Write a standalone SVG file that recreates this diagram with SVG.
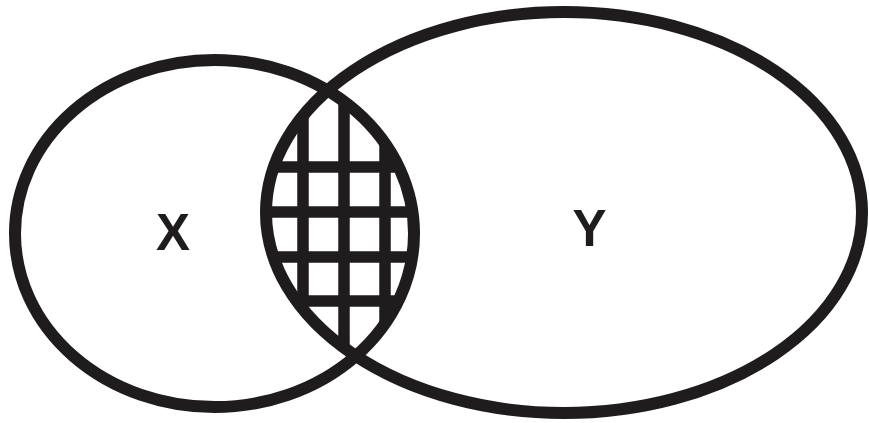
<svg xmlns="http://www.w3.org/2000/svg" width="869" height="423" viewBox="0 0 869 423">
  <style>
    .ring { fill: none; stroke: #1f1c1d; stroke-width: 12; }
    .grid line { stroke: #1f1c1d; stroke-width: 11.5; }
    .label { font-family: "Liberation Sans", Arial, sans-serif; font-weight: bold; font-size: 51px; fill: #1f1c1d; text-anchor: middle; }
  </style>
  <defs>
    <clipPath id="clipX">
      <ellipse cx="214.5" cy="233.5" rx="199.5" ry="173.5"/>
    </clipPath>
    <clipPath id="clipY">
      <ellipse cx="564" cy="212.5" rx="298" ry="200.5"/>
    </clipPath>
  </defs>
  <rect width="869" height="423" fill="#ffffff"/>
  <g id="intersection" clip-path="url(#clipX)">
    <g clip-path="url(#clipY)">
      <g class="grid">
        <line x1="303" y1="60" x2="303" y2="400"/>
        <line x1="344" y1="60" x2="344" y2="400"/>
        <line x1="385" y1="60" x2="385" y2="400"/>
        <line x1="240" y1="167" x2="440" y2="167"/>
        <line x1="240" y1="212" x2="440" y2="212"/>
        <line x1="240" y1="257" x2="440" y2="257"/>
        <line x1="240" y1="301" x2="440" y2="301"/>
      </g>
    </g>
  </g>
  <g id="setX">
    <ellipse class="ring" cx="214.5" cy="233.5" rx="199.5" ry="173.5"/>
    <text class="label" x="173" y="250">X</text>
  </g>
  <g id="setY">
    <ellipse class="ring" cx="564" cy="212.5" rx="298" ry="200.5"/>
    <text class="label" x="589.5" y="246">Y</text>
  </g>
  <g id="connectors"/>
</svg>
